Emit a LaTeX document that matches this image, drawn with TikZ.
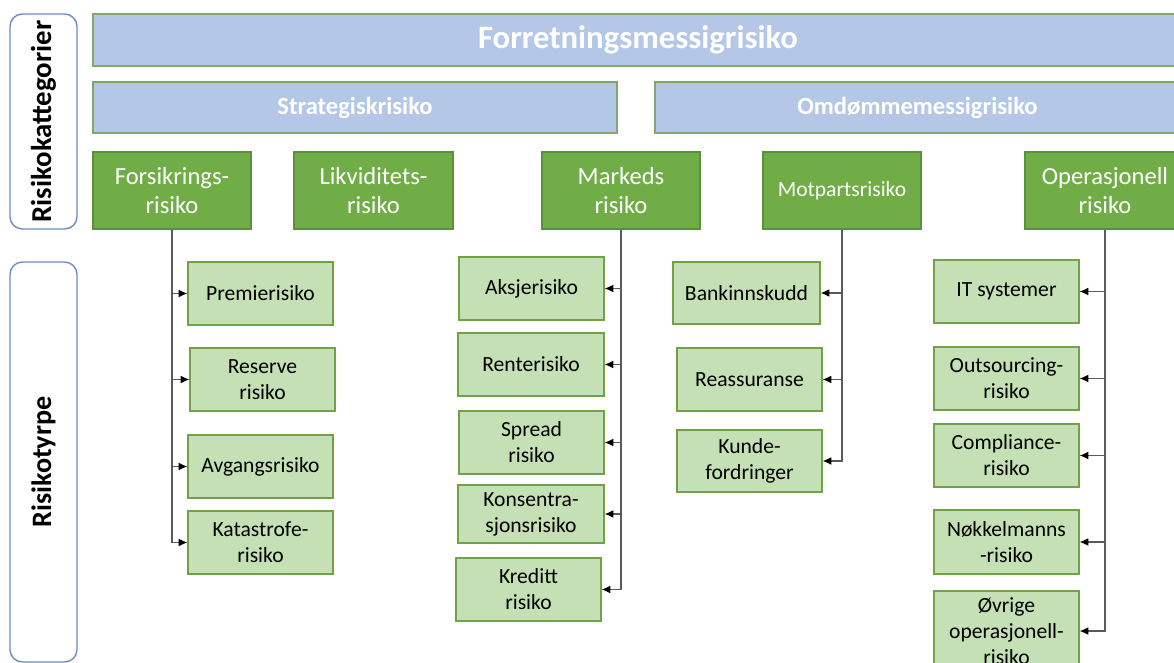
\documentclass[tikz,border=0pt]{standalone}
\usepackage{fontspec}
\setmainfont{Carlito}
\usetikzlibrary{arrows.meta}
\definecolor{cBar}{RGB}{180,199,231}
\definecolor{cBarE}{RGB}{128,168,104}
\definecolor{cCat}{RGB}{112,173,71}
\definecolor{cCatE}{RGB}{90,145,58}
\definecolor{cTyp}{RGB}{197,224,180}
\definecolor{cTypE}{RGB}{112,163,72}
\definecolor{cSide}{RGB}{108,142,191}
\definecolor{cLine}{RGB}{90,90,90}

\begin{document}
\begin{tikzpicture}[
  x=0.02cm, y=0.02cm,
  side/.style  ={draw=cSide, line width=0.8pt, rounded corners=7pt, fill=white,
                 minimum width=1.34cm, inner sep=0pt},
  bar/.style   ={draw=cBarE, fill=cBar, line width=0.7pt, text=white,
                 font=\bfseries, inner sep=0pt, minimum height=1.02cm},
  cat/.style   ={draw=cCatE, fill=cCat, line width=0.7pt, text=white, align=center,
                 font=\fontsize{14}{17}\selectfont, inner sep=0pt,
                 minimum width=3.16cm, minimum height=1.54cm},
  typ/.style   ={draw=cTypE, fill=cTyp, line width=0.7pt, align=center,
                 font=\fontsize{12.3}{14.8}\selectfont, inner sep=0pt,
                 minimum width=2.9cm, minimum height=1.26cm},
  conn/.style  ={draw=cLine, line width=0.6pt,
                 -{Latex[length=5pt,width=4.4pt,black]}},
]
\useasboundingbox (0,0) rectangle (1174,-663);

% ----- row labels -------------------------------------------------------
\node[side, minimum height=4.30cm] (kat) at (43.5,-121.5) {};
\node[rotate=90, font=\fontsize{16.4}{18}\selectfont\bfseries] at (kat.center)
      {Risikokattegorier};
\node[side, minimum height=8.00cm] (typ) at (43.5,-462) {};
\node[rotate=90, font=\fontsize{16}{18}\selectfont\bfseries] at (typ.center)
      {Risikotyrpe};

% ----- categories -------------------------------------------------------
\node[bar, minimum width=21.8cm, minimum height=1.04cm,
      font=\fontsize{18.6}{20}\selectfont\bfseries] (forr) at (638,-40)
      {Forretningsmessigrisiko};
\node[bar, minimum width=10.48cm, font=\fontsize{14}{16}\selectfont\bfseries]
      (strat) at (355,-107.5) {Strategiskrisiko};
\node[bar, minimum width=10.5cm, font=\fontsize{14}{16}\selectfont\bfseries]
      (omd) at (917.5,-107.5) {Omdømmemessigrisiko};

\node[cat] (fors) at (172,-190.5)   {Forsikrings-\\risiko};
\node[cat, minimum width=3.18cm] (likv) at (373.5,-190.5) {Likviditets-\\risiko};
\node[cat] (mark) at (621,-190.5)   {Markeds\\risiko};
\node[cat, font=\fontsize{12.3}{14.8}\selectfont] (motp) at (842,-190.5)
      {Motpartsrisiko};
\node[cat, minimum width=3.2cm] (oper) at (1105,-190.5) {Operasjonell\\risiko};

% ----- risk types: forsikring ------------------------------------------
\node[typ] (prem) at (260.5,-293.5) {Premierisiko};
\node[typ] (res)  at (262.5,-379.5) {Reserve\\risiko};
\node[typ] (avg)  at (260.5,-466.5) {Avgangsrisiko};
\node[typ] (kata) at (260.5,-542.5) {Katastrofe-\\risiko};

% ----- risk types: marked -----------------------------------------------
\node[typ] (aksj) at (531.5,-288.5) {Aksjerisiko};
\node[typ, minimum width=2.92cm] (rent) at (531,-364.5) {Renterisiko};
\node[typ] (spre) at (531.5,-442.5) {Spread\\risiko};
\node[typ, minimum width=2.92cm, minimum height=1.16cm] (kons) at (531,-514)
      {Konsentra-\\sjonsrisiko};
\node[typ] (kred) at (528.5,-589.5) {Kreditt\\risiko};

% ----- risk types: motpart ----------------------------------------------
\node[typ, minimum width=2.94cm, minimum height=1.24cm] (bank) at (746.5,-293)
      {Bankinnskudd};
\node[typ] (reas) at (749.5,-379.5) {Reassuranse};
\node[typ, minimum height=1.24cm] (kund) at (749.5,-461) {Kunde-\\fordringer};

% ----- risk types: operasjonell -----------------------------------------
\node[typ] (itsy) at (1006.5,-291.5) {IT systemer};
\node[typ] (outs) at (1006.5,-378.5) {Outsourcing-\\risiko};
\node[typ] (comp) at (1006.5,-455.5) {Compliance-\\risiko};
\node[typ, minimum height=1.28cm] (nokk) at (1006.5,-542) {Nøkkelmanns\\-risiko};
\node[typ, minimum height=1.6cm] (ovri) at (1006.5,-631)
      {Øvrige\\operasjonell-\\risiko};

% ----- connectors -------------------------------------------------------
\foreach \c in {prem,res,avg,kata}
  \draw[conn] (fors.south) |- (\c.west);
\foreach \c in {aksj,rent,spre,kons,kred}
  \draw[conn] (mark.south) |- (\c.east);
\foreach \c in {bank,reas,kund}
  \draw[conn] (motp.south) |- (\c.east);
\foreach \c in {itsy,outs,comp,nokk,ovri}
  \draw[conn] (oper.south) |- (\c.east);

\end{tikzpicture}
\end{document}
